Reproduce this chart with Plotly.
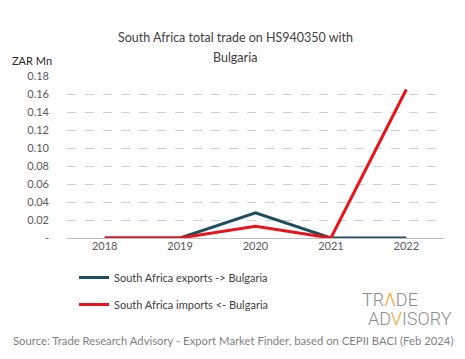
import plotly.graph_objects as go

years = ["2018", "2019", "2020", "2021", "2022"]
exports = [0.0, 0.0, 0.028, 0.0, 0.0]
imports = [0.0, 0.0, 0.013, 0.0, 0.165]
tick_vals = [0, 0.02, 0.04, 0.06, 0.08, 0.10, 0.12, 0.14, 0.16, 0.18]
tick_text = ["-", "0.02", "0.04", "0.06", "0.08", "0.10", "0.12", "0.14", "0.16", "0.18"]

FONT = "Lato"
W, H = 465, 359
L, R, T, B = 67, 21, 76, 121
PW, PH = W - L - R, H - T - B


def px(x):
    return (x - L) / PW


def py(y):
    return 1 - (y - T) / PH


fig = go.Figure()
fig.add_trace(go.Scatter(x=years, y=exports, mode="lines", name="South Africa exports -> Bulgaria",
                         legendgroup="a", line=dict(color="#1f4e60", width=3)))
fig.add_trace(go.Scatter(x=years, y=imports, mode="lines", name="South Africa imports <- Bulgaria",
                         legendgroup="b", line=dict(color="#e8141b", width=3)))

fig.update_layout(
    width=W, height=H,
    margin=dict(l=L, r=R, t=T, b=B, autoexpand=False),
    paper_bgcolor="white", plot_bgcolor="white",
    font=dict(family=FONT, color="#595959", size=11),
    showlegend=True,
    legend=dict(orientation="v", x=px(74), xanchor="left", y=py(263), yanchor="top",
                font=dict(size=11, color="#404040"), tracegroupgap=8,
                itemwidth=30, bgcolor="rgba(0,0,0,0)"),
    xaxis=dict(type="category", range=[-0.5, 4.5], showgrid=False, showline=False,
               ticks="", tickfont=dict(size=11, color="#595959"), zeroline=False),
    yaxis=dict(range=[0, 0.18], tickvals=tick_vals, ticktext=tick_text,
               showgrid=True, gridcolor="#d0d0d0", griddash="dash", gridwidth=1,
               zeroline=True, zerolinecolor="#bfbfbf", zerolinewidth=1,
               ticks="", ticklabelstandoff=17, tickfont=dict(size=11, color="#595959")),
    annotations=[
        dict(text="South Africa total trade on HS940350 with", x=px(235), y=py(37),
             xref="paper", yref="paper", showarrow=False,
             font=dict(size=12.5, color="#404040"), xanchor="center", yanchor="middle"),
        dict(text="Bulgaria", x=px(235), y=py(58),
             xref="paper", yref="paper", showarrow=False,
             font=dict(size=12.5, color="#404040"), xanchor="center", yanchor="middle"),
        dict(text="ZAR Mn", x=px(10), y=py(60), xref="paper", yref="paper", showarrow=False,
             font=dict(size=11, color="#262626"), xanchor="left", yanchor="middle"),
        dict(text="TR<span style='color:#f0a020'>Λ</span>DE", x=px(390), y=py(299),
             xref="paper", yref="paper", showarrow=False,
             font=dict(size=18, color="#8c8c8c", family="Roboto", weight=300),
             xanchor="center", yanchor="middle"),
        dict(text="AD<span style='color:#f0a020'>V</span>ISORY", x=px(410), y=py(318),
             xref="paper", yref="paper", showarrow=False,
             font=dict(size=18, color="#8c8c8c", family="Roboto", weight=300),
             xanchor="center", yanchor="middle"),
        dict(text="Source: Trade Research Advisory - Export Market Finder, based on CEPII BACI (Feb 2024)",
             x=px(233), y=py(340), xref="paper", yref="paper", showarrow=False,
             font=dict(size=11.3, color="#7f7f7f"), xanchor="center", yanchor="middle"),
    ],
)
fig.write_html("out.html", config={"displayModeBar": False},
               post_script="document.body.style.margin='0';")
